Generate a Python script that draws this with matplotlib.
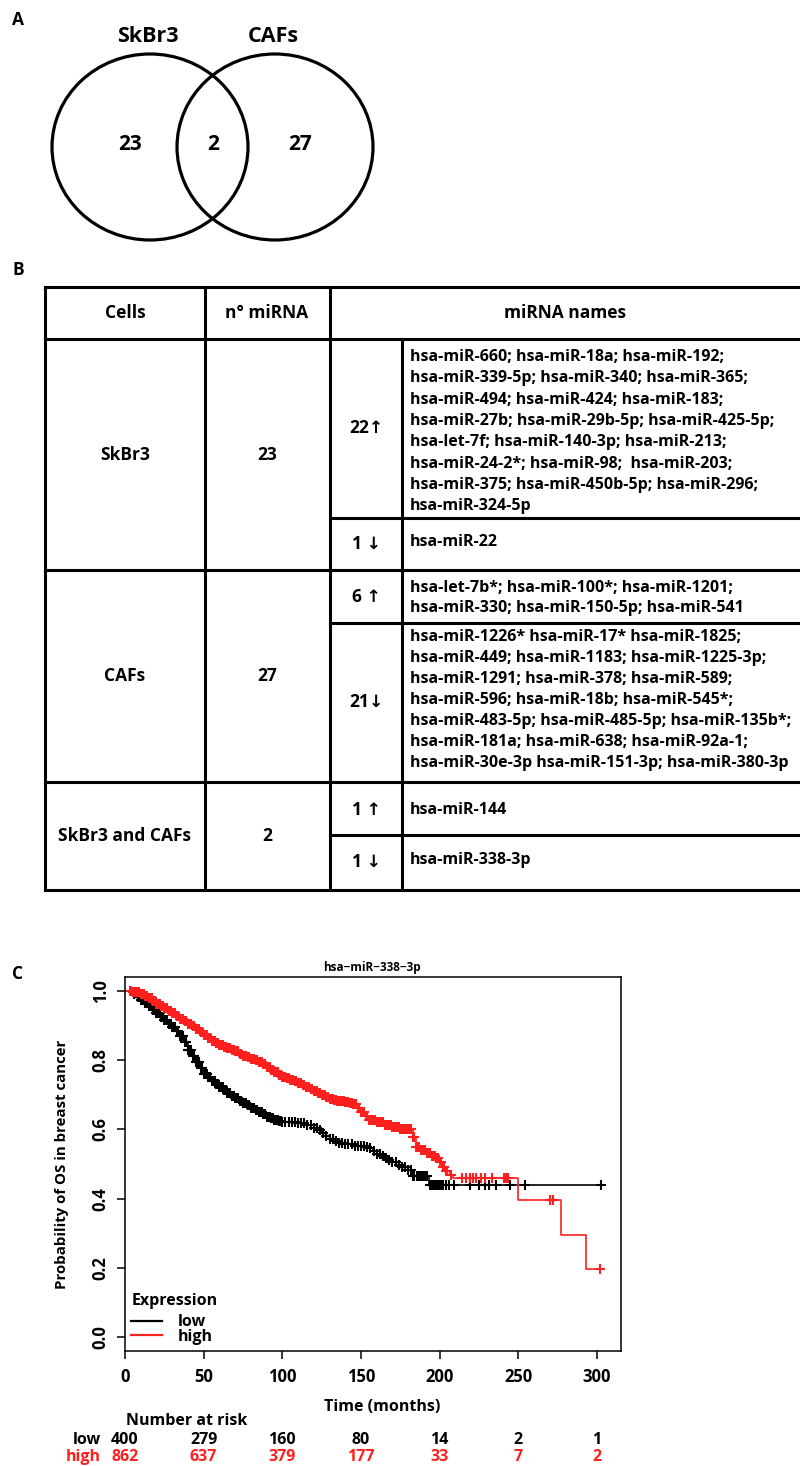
import numpy as np
import matplotlib
matplotlib.use('Agg')
import matplotlib.pyplot as plt
from matplotlib.patches import Ellipse

plt.rcParams['font.family'] = ['Open Sans', 'DejaVu Sans']
plt.rcParams['font.weight'] = 'bold'

# ---- A: venn ----
venn_sets = ['SkBr3', 'CAFs']
venn_counts = [23, 2, 27]   # only SkBr3, both, only CAFs

# ---- B: table ----
cells = ['SkBr3', 'CAFs', 'SkBr3 and CAFs']
n_mirna = [23, 27, 2]
sub_counts = ['22\u2191', '1 \u2193', '6 \u2191', '21\u2193', '1 \u2191', '1 \u2193']
mirna_names = [
    ['hsa-miR-660; hsa-miR-18a; hsa-miR-192;',
     'hsa-miR-339-5p; hsa-miR-340; hsa-miR-365;',
     'hsa-miR-494; hsa-miR-424; hsa-miR-183;',
     'hsa-miR-27b; hsa-miR-29b-5p; hsa-miR-425-5p;',
     'hsa-let-7f; hsa-miR-140-3p; hsa-miR-213;',
     'hsa-miR-24-2*; hsa-miR-98;  hsa-miR-203;',
     'hsa-miR-375; hsa-miR-450b-5p; hsa-miR-296;',
     'hsa-miR-324-5p'],
    ['hsa-miR-22'],
    ['hsa-let-7b*; hsa-miR-100*; hsa-miR-1201;',
     'hsa-miR-330; hsa-miR-150-5p; hsa-miR-541'],
    ['hsa-miR-1226* hsa-miR-17* hsa-miR-1825;',
     'hsa-miR-449; hsa-miR-1183; hsa-miR-1225-3p;',
     'hsa-miR-1291; hsa-miR-378; hsa-miR-589;',
     'hsa-miR-596; hsa-miR-18b; hsa-miR-545*;',
     'hsa-miR-483-5p; hsa-miR-485-5p; hsa-miR-135b*;',
     'hsa-miR-181a; hsa-miR-638; hsa-miR-92a-1;',
     'hsa-miR-30e-3p hsa-miR-151-3p; hsa-miR-380-3p'],
    ['hsa-miR-144'],
    ['hsa-miR-338-3p'],
]

# ---- C: Kaplan-Meier ----
low_t = [0, 2.5, 5, 7.5, 10, 12.5, 15, 17.5, 20, 22.5, 25, 27.5, 30, 32.5, 35, 37.5, 40,
         42.5, 45, 47.5, 50, 52.5, 55, 57.5, 60, 62.5, 65, 67.5, 70, 72.5, 75, 77.5, 80,
         82.5, 85, 87.5, 90, 92.5, 95, 97.5, 100, 105, 110, 115, 120, 122.5, 125, 127.5,
         130, 132.5, 135, 140, 145, 150, 152.5, 155, 157.5, 160, 162.5, 165, 167.5, 170,
         172.5, 175, 180, 183, 193, 303]
low_s = [1.0, 0.997, 0.99, 0.983, 0.975, 0.965, 0.955, 0.945, 0.935, 0.925, 0.915, 0.905,
         0.895, 0.883, 0.87, 0.852, 0.83, 0.812, 0.795, 0.777, 0.76, 0.75, 0.74, 0.731,
         0.722, 0.713, 0.705, 0.697, 0.69, 0.682, 0.675, 0.669, 0.663, 0.656, 0.65, 0.643,
         0.636, 0.632, 0.628, 0.625, 0.622, 0.62, 0.617, 0.612, 0.605, 0.598, 0.59, 0.581,
         0.572, 0.566, 0.562, 0.557, 0.553, 0.551, 0.548, 0.545, 0.538, 0.53, 0.524, 0.518,
         0.511, 0.505, 0.498, 0.49, 0.483, 0.464, 0.44, 0.44]
high_t = [0, 5, 10, 12.5, 15, 17.5, 20, 22.5, 25, 27.5, 30, 32.5, 35, 37.5, 40, 42.5, 45,
          47.5, 50, 52.5, 55, 57.5, 60, 62.5, 65, 67.5, 70, 72.5, 75, 77.5, 80, 82.5, 85,
          87.5, 90, 92.5, 95, 97.5, 100, 102.5, 105, 107.5, 110, 112.5, 115, 117.5, 120,
          122.5, 125, 127.5, 130, 132.5, 135, 140, 142.5, 145, 147.5, 150, 152.5, 155, 160,
          165, 170, 175, 183, 185, 188, 191.5, 195, 198, 200, 202, 204, 206.5, 208.6, 250,
          277, 293, 302]
high_s = [1.0, 0.997, 0.99, 0.984, 0.978, 0.97, 0.962, 0.956, 0.95, 0.943, 0.935, 0.928,
          0.92, 0.913, 0.905, 0.898, 0.89, 0.881, 0.872, 0.864, 0.856, 0.849, 0.843, 0.838,
          0.834, 0.83, 0.826, 0.819, 0.813, 0.808, 0.803, 0.799, 0.795, 0.788, 0.78, 0.772,
          0.765, 0.758, 0.752, 0.748, 0.744, 0.74, 0.735, 0.729, 0.723, 0.718, 0.712, 0.706,
          0.7, 0.694, 0.688, 0.684, 0.681, 0.679, 0.676, 0.672, 0.661, 0.65, 0.639, 0.628,
          0.62, 0.613, 0.607, 0.602, 0.579, 0.55, 0.54, 0.531, 0.523, 0.516, 0.505, 0.492,
          0.48, 0.468, 0.459, 0.395, 0.296, 0.197, 0.197]
low_cens = [6, 8, 9, 10, 11, 12, 13, 14, 15, 16, 17, 18, 19, 20, 21, 22, 23, 24, 25, 26,
            27, 28, 29, 30, 31, 32, 33, 34, 35, 36, 37, 38, 39, 40, 41, 42, 43, 44, 45, 46,
            47, 48, 49, 50, 51, 52, 53, 54, 55, 56, 57, 58, 59, 60, 61, 62, 63, 64, 65, 66,
            67, 68, 69, 70, 71, 72, 73, 74, 75, 76, 77, 78, 79, 80, 81, 82, 83, 84, 85, 86,
            87, 88, 89, 90, 91, 92, 93, 94, 95, 96, 97, 98, 99, 100, 102, 104, 106, 108, 110,
            112, 114, 116, 118, 120, 122, 124, 126, 128, 130, 132, 134, 136, 138, 140, 142,
            144, 146, 148, 150, 152, 154, 156, 158, 160, 162, 164, 166, 168, 170, 172, 174,
            176, 178, 180, 181.5, 183, 184, 185.5, 187, 188, 189, 190, 191, 192, 194, 195,
            196, 197, 198, 199, 200, 201, 202, 204, 206, 209, 219, 225, 229, 231.5, 236, 245,
            254, 302.5]
high_cens = [3, 4, 5, 6, 7, 8, 9, 10, 11, 12, 13, 14, 15, 16, 17, 18, 19, 20, 21, 22, 23,
             24, 25, 26, 27, 28, 29, 30, 31, 32, 33, 34, 35, 36, 37, 38, 39, 40, 41, 42, 43,
             44, 45, 46, 47, 48, 49, 50, 51, 52, 53, 54, 55, 56, 57, 58, 59, 60, 61, 62, 63,
             64, 65, 66, 67, 68, 69, 70, 71, 72, 73, 74, 75, 76, 77, 78, 79, 80, 81, 82, 83,
             84, 85, 86, 87, 88, 89, 90, 91, 92, 93, 94, 95, 96, 97, 98, 99, 100, 101, 102,
             103, 104, 105, 106, 107, 108, 109, 110, 111, 112, 113, 114, 115, 116, 117, 118,
             119, 120, 121, 122, 123, 124, 125, 126, 127, 128, 129, 130, 131, 132, 133, 134,
             135, 136, 137, 138, 139, 140, 141, 142, 143, 144, 145, 146, 147, 148, 149, 150,
             151, 152, 153, 154, 155, 156, 157, 158, 159, 160, 161, 162, 163, 164, 165, 166,
             167, 168, 169, 170, 171, 172, 173, 174, 175, 176, 177, 178, 179, 180, 181, 182,
             183, 184, 185, 186, 187, 188, 189, 190, 191, 192, 193, 194, 195, 196, 197, 198,
             199, 200, 201, 202, 203, 204, 205, 207, 214, 217, 219, 221, 223, 226.5, 229, 233,
             241, 242.5, 243.5, 270, 272, 302]
risk_times = [0, 50, 100, 150, 200, 250, 300]
risk_low = [400, 279, 160, 80, 14, 2, 1]
risk_high = [862, 637, 379, 177, 33, 7, 2]

RED = '#ff1f1f'

fig = plt.figure(figsize=(8, 14.66), dpi=100)

# overlay in pixel coords for venn + table + labels
ov = fig.add_axes([0, 0, 1, 1])
ov.set_xlim(0, 800)
ov.set_ylim(1466, 0)
ov.axis('off')
ov.patch.set_alpha(0)

# panel letters
for lab, y in zip(['A', 'B', 'C'], [20, 270, 974]):
    ov.text(18, y, lab, fontsize=12.5, ha='center', va='center')

# venn
for cx, name in zip([150, 275], venn_sets):
    ov.add_patch(Ellipse((cx, 147), 196, 186, fill=False, lw=2.3, ec='black'))
    ov.text(cx - 2, 37, name, fontsize=15.5, ha='center', va='center')
for x, c in zip([130, 213, 300], venn_counts):
    ov.text(x, 145, str(c), fontsize=15, ha='center', va='center')

# table grid
lw = 2.2
xl, xc1, xc2, xc3, xr = 45, 205, 330, 402, 800
for y in [287, 339, 570, 782, 890]:
    ov.plot([xl, xr], [y, y], color='black', lw=lw, solid_capstyle='projecting')
for y in [518, 623, 835]:
    ov.plot([xc2, xr], [y, y], color='black', lw=lw)
for x in [xl, xc1, xc2]:
    ov.plot([x, x], [287, 890], color='black', lw=lw, solid_capstyle='projecting')
ov.plot([xc3, xc3], [339, 890], color='black', lw=lw)

fs = 11.5
fl = 12.5
ov.text(125, 313, 'Cells', fontsize=fl, ha='center', va='center')
ov.text(267, 313, 'n\u00b0 miRNA', fontsize=fl, ha='center', va='center')
ov.text(565, 313, 'miRNA names', fontsize=fl, ha='center', va='center')

for lab, n, y in zip(cells, n_mirna, [455, 676, 836]):
    ov.text(125, y, lab, fontsize=fl, ha='center', va='center')
    ov.text(267, y, str(n), fontsize=fl, ha='center', va='center')

sub_y = [428, 544, 597, 702, 810, 862]
first_y = [357, 542, 588, 637, 810, 860]
pitch = [21.3, 21, 20, 21, 21, 21]
for s, y, names, y0, p in zip(sub_counts, sub_y, mirna_names, first_y, pitch):
    ov.text(366, y, s, fontsize=12.5, ha='center', va='center')
    for i, line in enumerate(names):
        ov.text(410, y0 + i * p, line, fontsize=fs, ha='left', va='center')

# KM plot
ax = fig.add_axes([125 / 800, 1 - 1351 / 1466, 496 / 800, 374 / 1466])
ax.set_xlim(0, 315.3)
ax.set_ylim(-0.04, 1.04)


def cens_y(t, s, c):
    idx = np.searchsorted(t, c, side='right') - 1
    return np.asarray(s)[np.clip(idx, 0, len(s) - 1)]


ax.step(low_t, low_s, where='post', color='black', lw=1.2, label='low')
ax.step(high_t, high_s, where='post', color=RED, lw=1.2, label='high')
ax.plot(low_cens, cens_y(low_t, low_s, low_cens), '+', color='black', ms=7.5, mew=1.5)
ax.plot(high_cens, cens_y(high_t, high_s, high_cens), '+', color=RED, ms=7.5, mew=1.5)

ax.set_xticks(risk_times)
ax.set_yticks([0, 0.2, 0.4, 0.6, 0.8, 1.0])
ax.set_yticklabels(['0.0', '0.2', '0.4', '0.6', '0.8', '1.0'], rotation=90, va='center')
ax.tick_params(axis='both', length=6, width=1.1, labelsize=12)
ax.tick_params(axis='x', pad=6)
ax.tick_params(axis='y', pad=5)
for sp in ax.spines.values():
    sp.set_linewidth(1.1)

leg = ax.legend(title='Expression', loc='lower left', bbox_to_anchor=(0.0, 0.0),
                frameon=False, fontsize=11.5, title_fontsize=11.5, handlelength=1.9,
                handletextpad=1.0, labelspacing=-0.1, borderpad=0.2,
                borderaxespad=0.2, alignment='left')
leg._legend_box.sep = 4
for h in leg.legend_handles:
    h.set_linewidth(1.6)

ov.text(372, 968, 'hsa\u2212miR\u2212338\u22123p', fontsize=8.5, ha='center', va='center')
ov.text(613, 1000, 'HR = 0.69 (0.56 \u2013 0.84)', fontsize=11.5, ha='right', va='center')
ov.text(613, 1020, 'logrank P = 0.00021', fontsize=11.5, ha='right', va='center')
ov.text(62, 1164, 'Probability of OS in breast cancer', fontsize=10.8, rotation=90,
        ha='center', va='center')
ov.text(382, 1407, 'Time (months)', fontsize=11.5, ha='center', va='center')
ov.text(126, 1421, 'Number at risk', fontsize=11.5, ha='left', va='center')

# risk table
ov.text(101, 1440, 'low', fontsize=11.5, ha='right', va='center')
ov.text(101, 1457, 'high', fontsize=11.5, ha='right', va='center', color=RED)
for t, a, b in zip(risk_times, risk_low, risk_high):
    xp = 125 + t * 472 / 300
    ov.text(xp, 1440, str(a), fontsize=11.5, ha='center', va='center')
    ov.text(xp, 1457, str(b), fontsize=11.5, ha='center', va='center', color=RED)

fig.savefig('out.png', dpi=100)
